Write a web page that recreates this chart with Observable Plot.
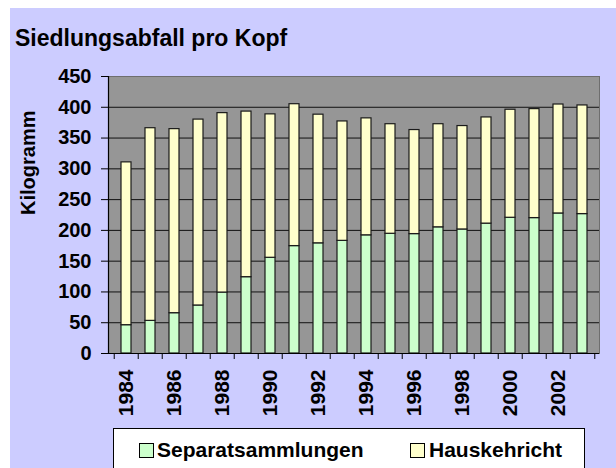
<!DOCTYPE html>
<html>
<head>
<meta charset="utf-8">
<script src="https://cdn.jsdelivr.net/npm/d3@7"></script>
<script src="https://cdn.jsdelivr.net/npm/@observablehq/plot@0.6"></script>
<style>
  html, body { margin: 0; padding: 0; background: #ffffff; }
  #root { position: relative; width: 616px; height: 468px; overflow: hidden; background: #ffffff;
          font-family: "Liberation Sans", Arial, sans-serif; color: #000; }
  #bg { position: absolute; left: 10px; top: 8px; right: 0; bottom: 0; background: #ccccff; }
  #title { position: absolute; left: 15px; top: 27px; font-size: 23px; line-height: 23px; font-weight: bold; white-space: nowrap; }
  #chart { position: absolute; left: 0; top: 55px; }
  #legend { position: absolute; left: 113px; top: 428px; width: 470px; height: 60px; background: #fff; border: 1px solid #000; }
  .sw { position: absolute; width: 13px; height: 13px; border: 1px solid #000; top: 14px; }
  .lt { position: absolute; top: 10px; font-size: 21px; line-height: 21px; font-weight: bold; white-space: nowrap; }
</style>
</head>
<body>
<div id="root">
  <div id="bg"></div>
  <div id="title"></div>
  <div id="chart"></div>
  <div id="legend"></div>
</div>
<script>
const title = "Siedlungsabfall pro Kopf";
const yLabel = "Kilogramm";
const years = [1984, 1985, 1986, 1987, 1988, 1989, 1990, 1991, 1992, 1993,
               1994, 1995, 1996, 1997, 1998, 1999, 2000, 2001, 2002, 2003];
const seriesNames = ["Separatsammlungen", "Hauskehricht"];
const seriesColors = ["#ccffcc", "#ffffcc"];
const separatsammlungen = [46, 53, 65.5, 78, 99, 124, 155.5, 174.5, 179, 183,
                           192, 194.5, 194, 205, 201.5, 211, 220.5, 220, 227.5, 226.5];
const hauskehricht = [264.5, 313, 299, 302, 291.5, 269, 233, 230.5, 209, 194,
                      190, 178, 169, 167.5, 168, 172.5, 175.5, 177, 177, 176.5];
const yTicks = [0, 50, 100, 150, 200, 250, 300, 350, 400, 450];
const xTickLabels = [1984, 1986, 1988, 1990, 1992, 1994, 1996, 1998, 2000, 2002];

document.getElementById("title").textContent = title;

const data = [];
years.forEach((yr, i) => {
  data.push({year: yr, series: seriesNames[0], value: separatsammlungen[i]});
  data.push({year: yr, series: seriesNames[1], value: hauskehricht[i]});
});

const W = 616, H = 370;
const mL = 108, mR = 17, mT = 21, mB = 72;
const step = (W - mL - mR) / years.length;

const chart = Plot.plot({
  width: W,
  height: H,
  marginLeft: mL,
  marginRight: mR,
  marginTop: mT,
  marginBottom: mB,
  style: {
    background: "transparent",
    fontFamily: "'Liberation Sans', Arial, sans-serif",
    fontSize: "20px",
    fontWeight: "bold",
    color: "#000",
    overflow: "visible"
  },
  x: {type: "band", domain: years, paddingInner: 0.59, paddingOuter: 0.295, axis: null},
  y: {domain: [0, 450], axis: null},
  color: {domain: seriesNames, range: seriesColors},
  marks: [
    Plot.frame({fill: "#969696", stroke: "#6e6e6e"}),
    Plot.ruleY(yTicks.filter(d => d > 0 && d < 450), {stroke: "#111", strokeWidth: 1}),
    Plot.barY(data, Plot.stackY({x: "year", y: "value", fill: "series", stroke: "#1a1a1a", strokeWidth: 1.2})),
    Plot.ruleY([0], {stroke: "#000", strokeWidth: 1.2}),
    Plot.frame({anchor: "left", stroke: "#000", strokeWidth: 1.2}),
    Plot.axisY({ticks: yTicks, tickSize: 7, tickPadding: 10, label: null, stroke: "#000"}),
    Plot.text([yLabel], {frameAnchor: "left", rotate: -90, dx: -80, fontSize: 20, fontWeight: "bold", fill: "#000"}),
    Plot.axisX({ticks: years, tickSize: 6, dx: -step / 2, tickFormat: () => "", label: null, stroke: "#000"}),
    Plot.axisX({ticks: [years[years.length - 1]], tickSize: 6, dx: step / 2, tickFormat: () => "", label: null, stroke: "#000"}),
    Plot.axisX({ticks: xTickLabels, tickSize: 0, tickPadding: 16, tickRotate: -90, tickFormat: d => String(d), label: null, fontSize: 21})
  ]
});
document.getElementById("chart").appendChild(chart);

const legend = document.getElementById("legend");
const swX = [25, 296], txX = [43, 315];
seriesNames.forEach((name, i) => {
  const sw = document.createElement("div");
  sw.className = "sw";
  sw.style.left = swX[i] + "px";
  sw.style.background = seriesColors[i];
  legend.appendChild(sw);
  const t = document.createElement("div");
  t.className = "lt";
  t.style.left = txX[i] + "px";
  t.textContent = name;
  legend.appendChild(t);
});
</script>
</body>
</html>
